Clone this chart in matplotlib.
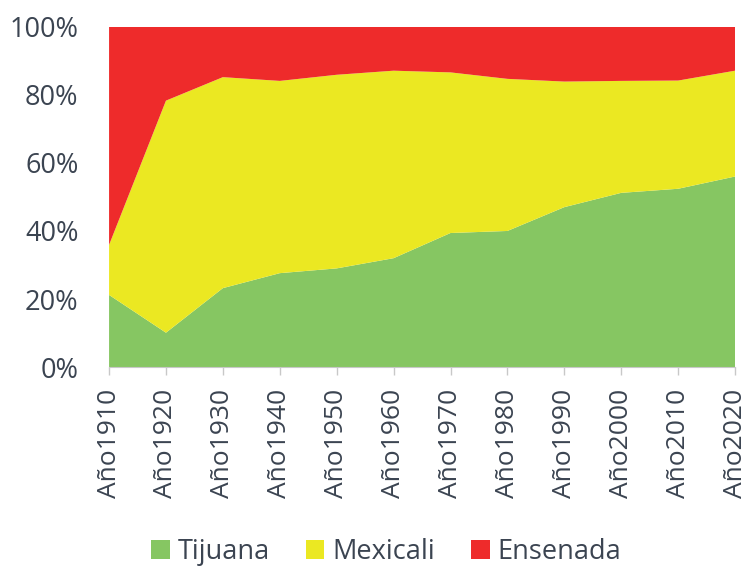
import matplotlib
matplotlib.use('Agg')
import matplotlib.pyplot as plt
from matplotlib.patches import Patch
import numpy as np

plt.rcParams['font.family'] = ['Open Sans', 'DejaVu Sans']

years = ['Año1910', 'Año1920', 'Año1930', 'Año1940', 'Año1950', 'Año1960',
         'Año1970', 'Año1980', 'Año1990', 'Año2000', 'Año2010', 'Año2020']
# population share (%) of each municipality
tijuana = [21.2, 10.1, 23.2, 27.6, 29.0, 32.0, 39.4, 40.0, 47.0, 51.2, 52.4, 56.0]
mexicali = [14.7, 68.2, 62.0, 56.5, 56.9, 55.1, 47.2, 44.7, 36.9, 32.9, 31.8, 31.1]
ensenada = [64.1, 21.7, 14.8, 15.9, 14.1, 12.9, 13.4, 15.3, 16.1, 15.9, 15.8, 12.9]

names = ['Tijuana', 'Mexicali', 'Ensenada']
colors = ['#86c662', '#ebe822', '#ee2b2b']
text_color = '#3b4451'

fig = plt.figure(figsize=(7.47, 5.70), dpi=100)
ax = fig.add_axes([0.146, 0.356, 0.838, 0.597])

x = np.arange(len(years))
ax.stackplot(x, tijuana, mexicali, ensenada, colors=colors, linewidth=0)

ax.set_xlim(x[0], x[-1])
ax.set_ylim(0, 100)
ax.set_yticks(range(0, 101, 20))
ax.set_yticklabels([f'{v}%' for v in range(0, 101, 20)])
ax.set_xticks(x)
ax.set_xticklabels(years, rotation=90)

for s in ['top', 'right', 'left']:
    ax.spines[s].set_visible(False)
ax.spines['bottom'].set_color('#c8c8c8')
ax.tick_params(axis='y', length=0, pad=22, labelsize=19.5, labelcolor=text_color)
ax.tick_params(axis='x', length=6, width=1, color='#c8c8c8', pad=10,
               labelsize=19, labelcolor=text_color)

handles = [Patch(facecolor=c, edgecolor='none') for c in colors]
fig.legend(handles, names, loc='center', bbox_to_anchor=(0.517, 0.032), ncol=3,
           frameon=False, fontsize=19.5, labelcolor=text_color,
           handlelength=0.7, handleheight=0.7, handletextpad=0.3, columnspacing=1.3)

fig.savefig('out.png', dpi=100)
plt.close(fig)
